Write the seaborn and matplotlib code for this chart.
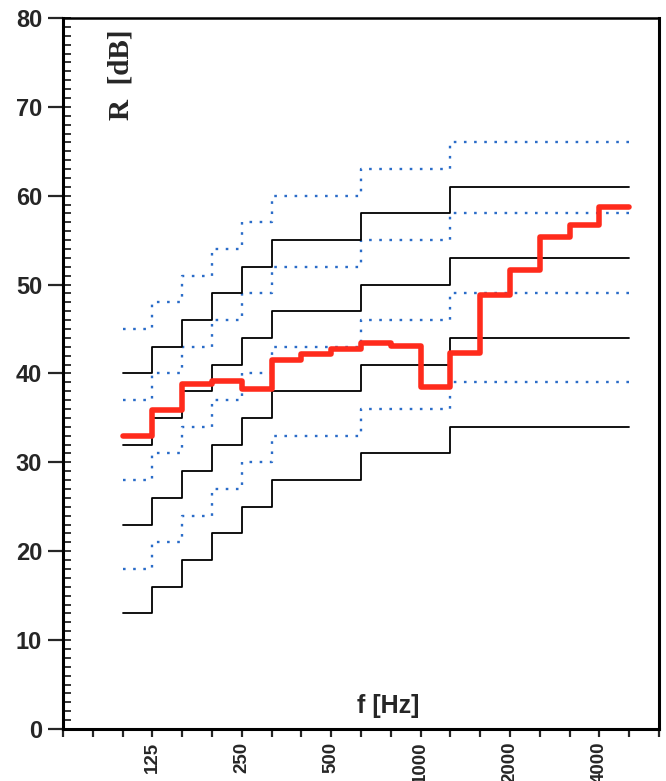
import matplotlib
matplotlib.use('Agg')
import matplotlib.pyplot as plt
import seaborn as sns
import pandas as pd
from matplotlib.ticker import MultipleLocator

# bandas de tercio de octava del eje x
bands = [63, 80, 100, 125, 160, 200, 250, 315, 400, 500, 630, 800,
         1000, 1250, 1600, 2000, 2500, 3150, 4000, 5000, 6300]
labelled = [125, 250, 500, 1000, 2000, 4000]

# curvas limite (escalones)
limit_edges = [100, 125, 160, 200, 250, 315, 630, 1250, 5000]
solid_1 = [40, 43, 46, 49, 52, 55, 58, 61]
solid_2 = [32, 35, 38, 41, 44, 47, 50, 53]
solid_3 = [23, 26, 29, 32, 35, 38, 41, 44]
solid_4 = [13, 16, 19, 22, 25, 28, 31, 34]
dotted_1 = [45, 48, 51, 54, 57, 60, 63, 66]
dotted_2 = [37, 40, 43, 46, 49, 52, 55, 58]
dotted_3 = [28, 31, 34, 37, 40, 43, 46, 49]
dotted_4 = [18, 21, 24, 27, 30, 33, 36, 39]

# curva medida
meas_edges = [100, 125, 160, 200, 250, 315, 400, 500, 630, 800,
              1000, 1250, 1600, 2000, 2500, 3150, 4000, 5000]
measured = [33.0, 35.9, 38.8, 39.1, 38.3, 41.5, 42.2, 42.8, 43.4, 43.1,
            38.5, 42.3, 48.8, 51.6, 55.3, 56.7, 58.7]


def escalones(edges, values):
    pos = [bands.index(f) for f in edges]
    return pd.DataFrame({'pos': pos, 'R': list(values) + [values[-1]]})


sns.set_style('ticks')
plt.rcParams['font.family'] = ['Liberation Sans', 'DejaVu Sans']

fig = plt.figure(figsize=(6.66, 7.81), dpi=100)
ax = fig.add_axes([0.0946, 0.0666, 0.895, 0.9104])

for vals in [dotted_1, dotted_2, dotted_3, dotted_4]:
    sns.lineplot(data=escalones(limit_edges, vals), x='pos', y='R', ax=ax,
                 color='#2a6cc8', lw=1.7, linestyle=(0, (1.1, 3.2)),
                 drawstyle='steps-post', estimator=None, sort=False, zorder=2)

for vals in [solid_1, solid_2, solid_3, solid_4]:
    sns.lineplot(data=escalones(limit_edges, vals), x='pos', y='R', ax=ax,
                 color='black', lw=1.3, drawstyle='steps-post',
                 estimator=None, sort=False, zorder=3)

sns.lineplot(data=escalones(meas_edges, measured), x='pos', y='R', ax=ax,
             color='#ff2b1c', lw=4.0, drawstyle='steps-post',
             estimator=None, sort=False, zorder=4)

ax.set_xlim(0, len(bands) - 1)
ax.set_ylim(0, 80)
ax.set_xticks(range(len(bands)))
ax.set_xticklabels([str(f) if f in labelled else '' for f in bands],
                   rotation=90, fontsize=13.5, fontweight='bold', va='top')
ax.set_yticks(range(0, 81, 10))
ax.set_yticklabels([str(v) for v in range(0, 81, 10)], fontsize=17, fontweight='bold')
ax.yaxis.set_minor_locator(MultipleLocator(1))
ax.yaxis.remove_overlapping_locs = False
ax.tick_params(axis='y', which='major', direction='out', length=11, width=1.6, pad=4)
ax.tick_params(axis='y', which='minor', direction='in', length=6, width=1.3)
ax.tick_params(axis='x', which='major', direction='out', length=6, width=1.6, pad=3)
ax.set_xlabel('')
ax.set_ylabel('')

for s in ax.spines.values():
    s.set_linewidth(2.2)
    s.set_color('black')
ax.spines['top'].set_linewidth(1.8)

ax.text(10.9, 2.6, 'f [Hz]', ha='center', va='center', fontsize=18, fontweight='bold')
ax.text(1.93, 73.6, 'R  [dB]', rotation=90, ha='center', va='center', fontsize=21,
        fontweight='bold', family=['Liberation Serif', 'DejaVu Serif'])

fig.savefig('out.png', dpi=100)
